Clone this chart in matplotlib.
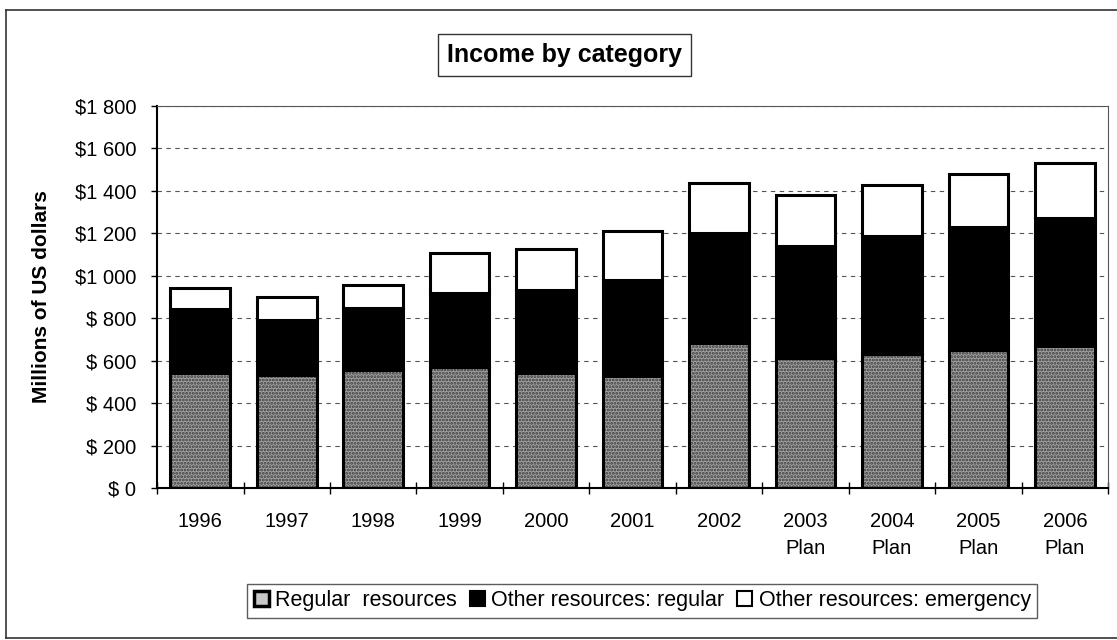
import matplotlib
matplotlib.use("Agg")
import matplotlib.pyplot as plt
from matplotlib.patches import Patch
from matplotlib.lines import Line2D
import numpy as np

plt.rcParams['font.family'] = ['Liberation Sans', 'DejaVu Sans']
plt.rcParams['hatch.linewidth'] = 1.4

# values, millions of US dollars
years = ['1996', '1997', '1998', '1999', '2000', '2001', '2002',
         '2003\nPlan', '2004\nPlan', '2005\nPlan', '2006\nPlan']
regular_resources = [540, 532, 556, 572, 542, 529, 682, 611, 631, 650, 669]
other_regular = [302, 260, 291, 345, 391, 451, 521, 529, 556, 578, 602]
other_emergency = [100, 107, 111, 190, 192, 229, 233, 239, 242, 250, 259]

ytick_values = [0, 200, 400, 600, 800, 1000, 1200, 1400, 1600, 1800]
ytick_labels = ['$ 0', '$ 200', '$ 400', '$ 600', '$ 800',
                '$1 000', '$1 200', '$1 400', '$1 600', '$1 800']

legend_labels = ['Regular  resources', 'Other resources: regular',
                 'Other resources: emergency']

fig = plt.figure(figsize=(11.17, 6.4), dpi=100)
ax = fig.add_axes([0.1406, 0.2375, 0.8514, 0.5969])

x = np.arange(len(years))
w = 0.69
reg = np.array(regular_resources)
oth = np.array(other_regular)
emg = np.array(other_emergency)

# stippled grey base: hatch layer first, outline on top
ax.bar(x, reg, w, color='#a2a2a2', edgecolor='#3a3a3a', hatch='.....',
       linewidth=0, zorder=2)
ax.bar(x, reg, w, fill=False, edgecolor='black', linewidth=2.2, zorder=3)
ax.bar(x, oth, w, bottom=reg, color='black', edgecolor='black',
       linewidth=2.2, zorder=3)
ax.bar(x, emg, w, bottom=reg + oth, color='white', edgecolor='black',
       linewidth=2.2, zorder=3)

ax.set_xlim(-0.5, len(years) - 0.5)
ax.set_ylim(0, 1800)

ax.set_yticks(ytick_values)
ax.set_yticklabels(ytick_labels, fontsize=14.5)
ax.tick_params(axis='y', direction='out', length=4, width=1, pad=11)

ax.set_xticks(x)
ax.set_xticklabels(years, fontsize=14.5, linespacing=1.55)
ax.tick_params(axis='x', which='major', length=0, pad=17)
ax.set_xticks(np.arange(-0.5, len(years)), minor=True)
ax.tick_params(axis='x', which='minor', direction='inout', length=9, width=1)

ax.yaxis.grid(True, linestyle=(0, (4, 4)), color='#555555', linewidth=0.8)
ax.set_axisbelow(True)

ax.spines['left'].set_linewidth(1.5)
ax.spines['bottom'].set_linewidth(1.5)
ax.spines['top'].set_color('#555555')
ax.spines['right'].set_color('#555555')

ax.set_ylabel('Millions of US dollars', fontsize=15, fontweight='bold')
ax.yaxis.set_label_coords(-0.112, 0.5)

fig.text(0.5054, 0.914, 'Income by category', fontsize=18, fontweight='bold',
         ha='center', va='center',
         bbox=dict(boxstyle='square,pad=0.35', facecolor='white',
                   edgecolor='#333333', linewidth=1))

handles = [Patch(facecolor='#c8c8c8', edgecolor='black', linewidth=2.5),
           Patch(facecolor='black', edgecolor='black', linewidth=1.5),
           Patch(facecolor='white', edgecolor='black', linewidth=1.5)]
leg = fig.legend(handles, legend_labels, loc='center', ncol=3,
                 bbox_to_anchor=(0.575, 0.061), fontsize=15.5, frameon=True,
                 fancybox=False, handlelength=0.7, handleheight=0.7,
                 handletextpad=0.3, columnspacing=0.6, borderpad=0.3)
leg.get_frame().set_edgecolor('#333333')
leg.get_frame().set_linewidth(1)

# outer chart border (right side is cut off in the source)
fw, fh = 1117.0, 640.0
for xs, ys in [([6, 6], [10, 638]), ([6, 1117], [10, 10]), ([6, 1117], [638, 638])]:
    fig.add_artist(Line2D([v / fw for v in xs], [1 - v / fh for v in ys],
                          color='#333333', linewidth=1.2))

fig.savefig('out.png', dpi=100)
